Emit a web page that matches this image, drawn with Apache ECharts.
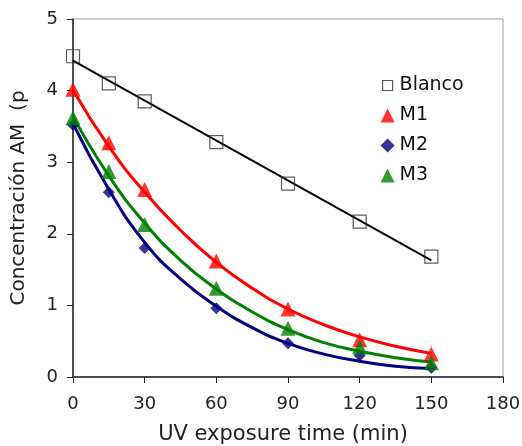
<!DOCTYPE html>
<html lang="es">
<head>
<meta charset="UTF-8">
<title>UV exposure</title>
<script src="https://cdn.jsdelivr.net/npm/echarts@6/dist/echarts.min.js"></script>
<style>
  html, body { margin: 0; padding: 0; background: #fff; }
  #main { width: 522px; height: 446px; }
</style>
</head>
<body>
<div id="main"></div>
<script>
// measured points (min, concentration)
var times = [0, 15, 30, 60, 90, 120, 150];
var blanco = [4.48, 4.10, 3.85, 3.28, 2.70, 2.17, 1.68];
var m1 = [4.02, 3.27, 2.62, 1.62, 0.95, 0.52, 0.32];
var m2 = [3.52, 2.58, 1.80, 0.96, 0.47, 0.30, 0.13];
var m3 = [3.62, 2.87, 2.13, 1.24, 0.68, 0.42, 0.20];

// fitted curves
var fitTimes = [0, 15, 30, 45, 60, 75, 90, 105, 120, 135, 150];
var fitM1 = [4.01, 3.22, 2.58, 2.05, 1.60, 1.24, 0.95, 0.73, 0.56, 0.43, 0.33];
var fitM2 = [3.54, 2.62, 1.88, 1.37, 0.99, 0.69, 0.47, 0.32, 0.22, 0.15, 0.12];
var fitM3 = [3.64, 2.81, 2.15, 1.63, 1.23, 0.91, 0.66, 0.48, 0.36, 0.27, 0.21];
var blancoLineT = [0, 150];
var blancoLine = [4.42, 1.63];

function pairs(xs, ys) {
  return xs.map(function (x, i) { return [x, ys[i]]; });
}

var font = 'DejaVu Sans';
// small open square inside a 14x14 box so it looks smaller than the triangles
var smallSquare = 'path://M0,0M14,14M2,2L12,2L12,12L2,12Z';
var chart = echarts.init(document.getElementById('main'));

var option = {
  animation: false,
  textStyle: { fontFamily: font },
  grid: {
    left: 73, right: 19, top: 19, bottom: 69,
    outerBoundsMode: 'none',
    show: true, borderColor: '#a0a0a0', borderWidth: 1
  },
  legend: {
    orient: 'vertical',
    left: 375,
    top: 71,
    itemGap: 11,
    itemWidth: 14,
    itemHeight: 14,
    textStyle: { fontSize: 19, color: '#111', fontFamily: font },
    data: [
      { name: 'Blanco', icon: smallSquare, itemStyle: { color: '#fff', borderColor: '#333', borderWidth: 1.2 } },
      { name: 'M1', icon: 'triangle', itemStyle: { color: '#ff0000' } },
      { name: 'M2', icon: 'diamond', itemStyle: { color: '#000080' } },
      { name: 'M3', icon: 'triangle', itemStyle: { color: '#008000' } }
    ]
  },
  xAxis: {
    type: 'value', min: 0, max: 180, interval: 30,
    name: 'UV exposure time (min)', nameLocation: 'middle', nameGap: 47,
    nameTextStyle: { fontSize: 21, color: '#222', padding: [0, 10, 0, 0] },
    axisLine: { lineStyle: { color: '#222', width: 1.5 } },
    axisTick: { lineStyle: { color: '#222' }, length: 6 },
    axisLabel: { fontSize: 18, color: '#222', margin: 18 },
    splitLine: { show: false }
  },
  yAxis: {
    type: 'value', min: 0, max: 5, interval: 1,
    name: 'Concentración AM  (p', nameLocation: 'middle', nameGap: 44,
    nameTextStyle: { fontSize: 20, color: '#222' },
    axisLine: { show: true, lineStyle: { color: '#222', width: 1.5 } },
    axisTick: { show: true, lineStyle: { color: '#222' }, length: 6 },
    axisLabel: { fontSize: 18, color: '#222', margin: 15 },
    splitLine: { show: false }
  },
  series: [
    { name: 'fitBlanco', type: 'line', data: pairs(blancoLineT, blancoLine), symbol: 'none',
      lineStyle: { color: '#000', width: 2 }, z: 2, silent: true },
    { name: 'fitM1', type: 'line', smooth: true, data: pairs(fitTimes, fitM1), symbol: 'none',
      lineStyle: { color: '#ff0000', width: 3 }, z: 2, silent: true },
    { name: 'fitM3', type: 'line', smooth: true, data: pairs(fitTimes, fitM3), symbol: 'none',
      lineStyle: { color: '#008000', width: 3 }, z: 2, silent: true },
    { name: 'fitM2', type: 'line', smooth: true, data: pairs(fitTimes, fitM2), symbol: 'none',
      lineStyle: { color: '#000080', width: 3 }, z: 2, silent: true },
    { name: 'Blanco', type: 'scatter', data: pairs(times, blanco), symbol: 'rect', symbolSize: 13,
      itemStyle: { color: 'rgba(255,255,255,0)', borderColor: '#333', borderWidth: 1.2 }, z: 3 },
    { name: 'M1', type: 'scatter', data: pairs(times, m1), symbol: 'triangle', symbolSize: 15,
      itemStyle: { color: '#ff0000' }, z: 3 },
    { name: 'M2', type: 'scatter', data: pairs(times, m2), symbol: 'diamond', symbolSize: 12,
      itemStyle: { color: '#000080' }, z: 3 },
    { name: 'M3', type: 'scatter', data: pairs(times, m3), symbol: 'triangle', symbolSize: 15,
      itemStyle: { color: '#008000' }, z: 3 }
  ]
};
chart.setOption(option);
</script>
</body>
</html>
